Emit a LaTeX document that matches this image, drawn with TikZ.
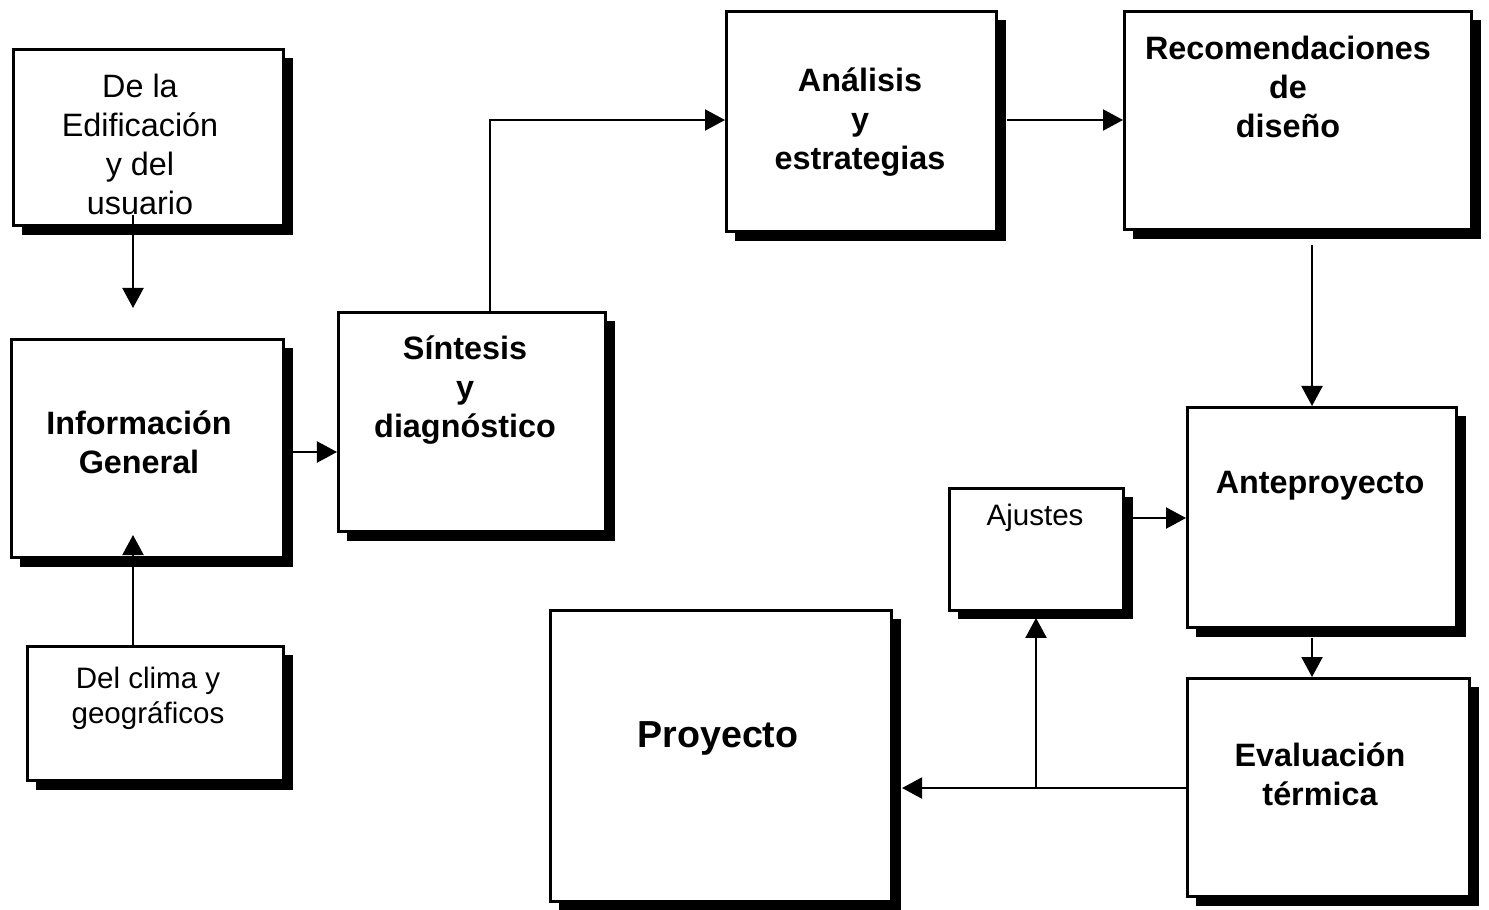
\documentclass[tikz,border=0pt]{standalone}
\usepackage{fontspec}
\setmainfont{Liberation Sans}
\usetikzlibrary{arrows.meta,shadows}
\begin{document}
\begin{tikzpicture}[x=0.01cm,y=-0.01cm,
  box/.style={draw=black,line width=0.8pt,fill=white,inner sep=0pt,anchor=north west,
    drop shadow={shadow xshift=0.09cm,shadow yshift=-0.09cm,fill=black,opacity=1}},
  txt/.style={align=center,inner sep=0pt,font=\fontsize{9.2}{11.1}\selectfont},
  btxt/.style={align=center,inner sep=0pt,font=\fontsize{9.2}{11.1}\selectfont\bfseries},
  stxt/.style={align=center,inner sep=0pt,font=\fontsize{8.4}{10}\selectfont},
  arr/.style={draw=black,line width=0.6pt,-{Triangle[length=0.2cm,width=0.21cm]}}]
\useasboundingbox (0,0) rectangle (1489,909);
% boxes
\node[box,minimum width=2.70cm,minimum height=1.76cm] (b1) at (12,48) {};
\node[box,minimum width=2.72cm,minimum height=2.18cm] (b2) at (10,338) {};
\node[box,minimum width=2.56cm,minimum height=1.34cm] (b3) at (26,645) {};
\node[box,minimum width=2.67cm,minimum height=2.19cm] (b4) at (337,311) {};
\node[box,minimum width=2.70cm,minimum height=2.20cm] (b5) at (725,10) {};
\node[box,minimum width=3.47cm,minimum height=2.18cm] (b6) at (1123,10) {};
\node[box,minimum width=2.69cm,minimum height=2.20cm] (b7) at (1186,406) {};
\node[box,minimum width=1.74cm,minimum height=1.22cm] (b8) at (948,487) {};
\node[box,minimum width=2.82cm,minimum height=2.18cm] (b9) at (1186,677) {};
\node[box,minimum width=3.41cm,minimum height=2.91cm] (b10) at (549,609) {};
% texts
\node[txt] (t1) at (140,144) {De la\\Edificación\\y del\\usuario};
\node[btxt] (t2) at (139,442) {Información\\General};
\node[stxt] (t3) at (148,698) {Del clima y\\geográficos};
\node[btxt] (t4) at (465,390) {Síntesis\\y\\diagnóstico};
\node[btxt] (t5) at (860,122) {Análisis\\y\\estrategias};
\node[btxt] (t6) at (1288,87) {Recomendaciones\\de\\diseño};
\node[btxt] (t7) at (1320,486) {Anteproyecto};
\node[stxt] (t8) at (1035,518) {Ajustes};
\node[btxt] (t9) at (1320,774) {Evaluación\\térmica};
\node[inner sep=0pt,font=\fontsize{10.7}{12.7}\selectfont\bfseries] (t10) at (718,738) {Proyecto};
% coordinates
\coordinate (e1) at (133,308);
\coordinate (e2) at (133,535);
\coordinate (c3) at (0,452);
\coordinate (c4) at (490,120);
\coordinate (c6) at (1312,0);
\coordinate (c8) at (0,518);
\coordinate (c9) at (0,788);
\coordinate (c10) at (1036,788);
% connectors
\draw[arr] ([yshift=0.12cm]b1.south -| e1) -- (e1);
\draw[arr] (b3.north -| e2) -- (e2);
\draw[arr] (b2.east |- c3) -- (b4.west |- c3);
\draw[arr] (b4.north -| c4) |- (b5.west |- c4);
\draw[arr] ([xshift=0.09cm]b5.east |- c4) -- (b6.west |- c4);
\draw[arr] ([yshift=-0.14cm]b6.south -| c6) -- (b7.north -| c6);
\draw[arr] ([xshift=0.08cm]b8.east |- c8) -- (b7.west |- c8);
\draw[arr] ([yshift=-0.09cm]b7.south -| c6) -- (b9.north -| c6);
\draw[arr] (b9.west |- c9) -- ([xshift=0.09cm]b10.east |- c9);
\draw[arr] (c10) -- ([yshift=-0.06cm]b8.south -| c10);
\end{tikzpicture}
\end{document}
